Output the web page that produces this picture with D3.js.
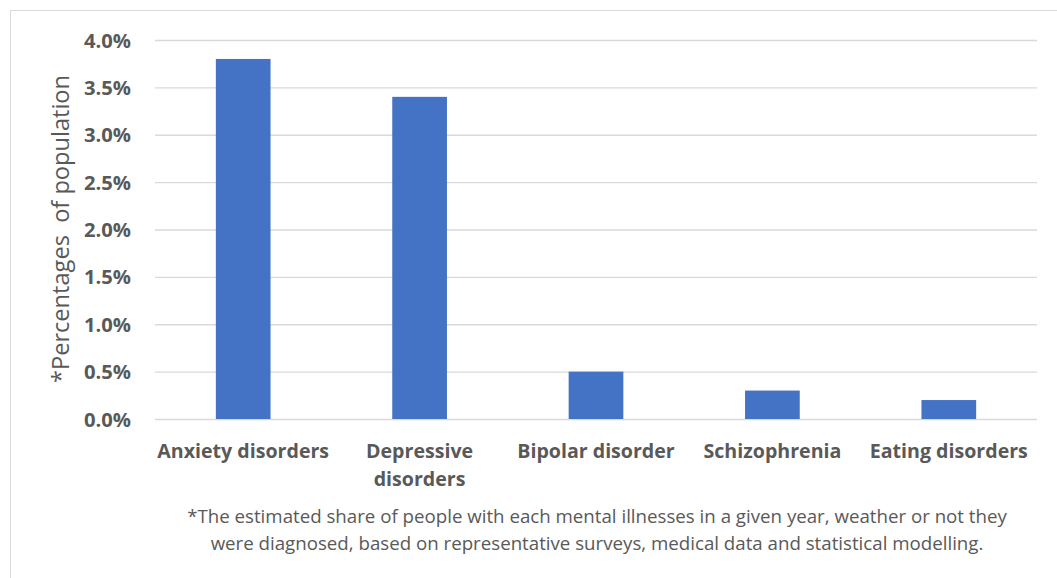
<!DOCTYPE html>
<html><head><meta charset="utf-8">
<script src="https://cdn.jsdelivr.net/npm/d3@7"></script>
<style>html,body{margin:0;padding:0;background:#fff;}</style>
</head><body>
<svg id="chart" width="1057" height="578"></svg>
<script>
const categories = [["Anxiety disorders"], ["Depressive", "disorders"], ["Bipolar disorder"], ["Schizophrenia"], ["Eating disorders"]];
const values = [0.038, 0.034, 0.005, 0.003, 0.002];
const yTicks = [0, 0.005, 0.01, 0.015, 0.02, 0.025, 0.03, 0.035, 0.04];
const yTitle = "*Percentages  of population";
const footnote = ["*The estimated share of people with each mental illnesses in a given year, weather or not they",
                  "were diagnosed, based on representative surveys, medical data and statistical modelling."];

(function() {
const svg = d3.select("#chart");
const font = "'Open Sans', Lato, sans-serif";
const gray = "#595959";

// find a font size so that a sample string has the wanted width
function fitSize(text, weight, target) {
  const t = svg.append("text").attr("font-family", font).attr("font-weight", weight)
    .attr("font-size", 20).style("white-space", "pre").text(text);
  const w = t.node().getComputedTextLength();
  t.remove();
  return Math.round(20 * target / w * 10) / 10;
}
const tickSize = fitSize("4.0%", "bold", 47);
const catSize = fitSize("Anxiety disorders", "bold", 172);
const titleSize = fitSize(yTitle, "normal", 308);
const noteSize = fitSize(footnote[0], "normal", 822);

svg.append("rect").attr("x", 10.5).attr("y", 10.5).attr("width", 1100).attr("height", 700)
  .attr("fill", "#fff").attr("stroke", "#d9d9d9").attr("stroke-width", 1);

const pLeft = 155, pRight = 1037, pTop = 40, pBottom = 419;
const keys = categories.map((c, i) => i);
const x = d3.scaleBand().domain(keys).range([pLeft, pRight]).paddingInner(0.69).paddingOuter(0.345);
const y = d3.scaleLinear().domain([0, 0.04]).range([pBottom, pTop]);

// gridlines
const yAxis = d3.axisLeft(y).tickValues(yTicks).tickSize(-(pRight - pLeft)).tickFormat(d3.format(".1%"));
const gy = svg.append("g").attr("transform", `translate(${pLeft},0)`).call(yAxis);
gy.select(".domain").remove();
gy.selectAll(".tick line").attr("stroke", "#d9d9d9").attr("stroke-width", 1.3);
gy.selectAll(".tick text").attr("x", -24).attr("dy", "0.35em")
  .attr("font-family", font).attr("font-weight", "bold").attr("font-size", tickSize).attr("fill", gray);

// bars
svg.append("g").selectAll("rect").data(values).join("rect")
  .attr("x", (d, i) => x(i)).attr("width", x.bandwidth())
  .attr("y", d => y(d)).attr("height", d => y(0) - y(d))
  .attr("fill", "#4472c4");

// x axis labels
const xAxis = d3.axisBottom(x).tickSize(0).tickFormat(() => "");
const gx = svg.append("g").attr("transform", `translate(0,${pBottom})`).call(xAxis);
gx.select(".domain").remove();
gx.selectAll(".tick").each(function(i) {
  const t = d3.select(this).append("text")
    .attr("text-anchor", "middle").attr("font-family", font).attr("font-weight", "bold")
    .attr("font-size", catSize).attr("fill", gray);
  categories[i].forEach((line, j) => {
    t.append("tspan").attr("x", 0).attr("y", 39 + j * 28).text(line);
  });
});

// y title
svg.append("text").attr("transform", "translate(69,229) rotate(-90)")
  .attr("text-anchor", "middle").attr("font-family", font).attr("font-size", titleSize)
  .attr("fill", gray).style("white-space", "pre").text(yTitle);

// footnote
svg.append("text").attr("text-anchor", "middle").attr("font-family", font)
  .attr("font-size", noteSize).attr("fill", gray)
  .selectAll("tspan").data(footnote).join("tspan")
  .attr("x", 597).attr("y", (d, i) => 523 + i * 27).text(d => d);
})();
</script>
</body></html>
